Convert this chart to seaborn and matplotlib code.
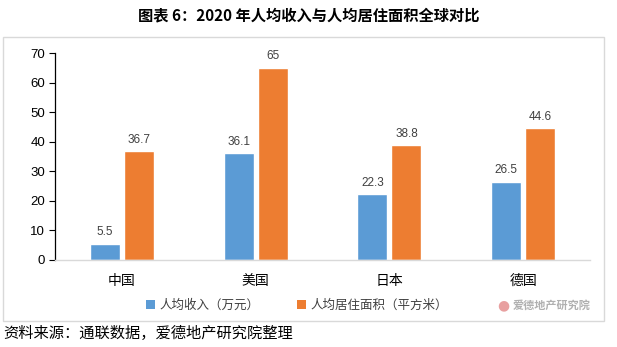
import matplotlib
matplotlib.use("Agg")
import matplotlib.pyplot as plt
import seaborn as sns
import pandas as pd
from matplotlib.patches import Rectangle, Patch

categories = ["中国", "美国", "日本", "德国"]
series_names = ["人均收入（万元）", "人均居住面积（平方米）"]
income = [5.5, 36.1, 22.3, 26.5]
area = [36.7, 65, 38.8, 44.6]
yticks = [0, 10, 20, 30, 40, 50, 60, 70]
colors = ["#5B9BD5", "#ED7D31"]

df = pd.DataFrame({
    "country": categories * 2,
    "series": [series_names[0]] * 4 + [series_names[1]] * 4,
    "value": income + area,
})

sns.set_theme(style="white")
plt.rcParams["font.family"] = ["Noto Sans CJK SC", "DejaVu Sans"]

fig = plt.figure(figsize=(6.17, 3.47), dpi=100)
fig.patches.append(Rectangle((3 / 617, 1 - 321 / 347), 601 / 617, 284 / 347,
                             transform=fig.transFigure, fill=False,
                             edgecolor="#D9D9D9", linewidth=1.0, zorder=0))
ax = fig.add_axes([55 / 617, 1 - 260 / 347, 535 / 617, 207 / 347])

sns.barplot(data=df, x="country", y="value", hue="series", palette=colors,
            width=0.51, gap=0.12, ax=ax, legend=False, saturation=1)

for cont in ax.containers:
    labels = [("%g" % v) for v in cont.datavalues]
    ax.bar_label(cont, labels=labels, padding=4, fontsize=8.5,
                 color="#404040", family="Liberation Sans")

ax.set_ylim(0, 70)
ax.set_xlim(-0.5, 3.5)
ax.set_yticks(yticks)
ax.set_yticklabels([str(t) for t in yticks], family="Liberation Sans", fontsize=9.5, color="#000000")
ax.tick_params(axis="y", left=True, length=4, width=0.8, color="#000000", pad=3)
ax.tick_params(axis="x", bottom=False, pad=4, labelsize=10, labelcolor="#000000")
ax.set_xlabel("")
ax.set_ylabel("")
for s in ["top", "right"]:
    ax.spines[s].set_visible(False)
ax.spines["left"].set_color("#000000")
ax.spines["left"].set_linewidth(0.9)
ax.spines["bottom"].set_color("#D9D9D9")
ax.spines["bottom"].set_linewidth(1.0)

handles = [Patch(facecolor=c, edgecolor="none") for c in colors]
fig.legend(handles, series_names, loc="center", bbox_to_anchor=(297 / 617, 1 - 305 / 347),
           ncol=2, frameon=False, fontsize=9, handlelength=0.7, handleheight=0.7,
           handletextpad=0.4, columnspacing=3.0, labelcolor="#404040")

fig.text(552 / 617, 1 - 305 / 347, "爱德地产研究院", ha="center", va="center",
         fontsize=8, color="#B0B0B0", fontweight="bold")
fig.text(503 / 617, 1 - 305 / 347, "●", ha="center", va="center",
         fontsize=10, color="#E8A0A0", family="DejaVu Sans")

fig.text(0.5, 1 - 15 / 347, "图表 6：2020 年人均收入与人均居住面积全球对比", ha="center", va="center",
         fontsize=11, fontweight="bold", color="#000000")
fig.text(3 / 617, 1 - 333 / 347, "资料来源：通联数据，爱德地产研究院整理", ha="left", va="center",
         fontsize=11, color="#000000")

fig.savefig("out.png", dpi=100)
